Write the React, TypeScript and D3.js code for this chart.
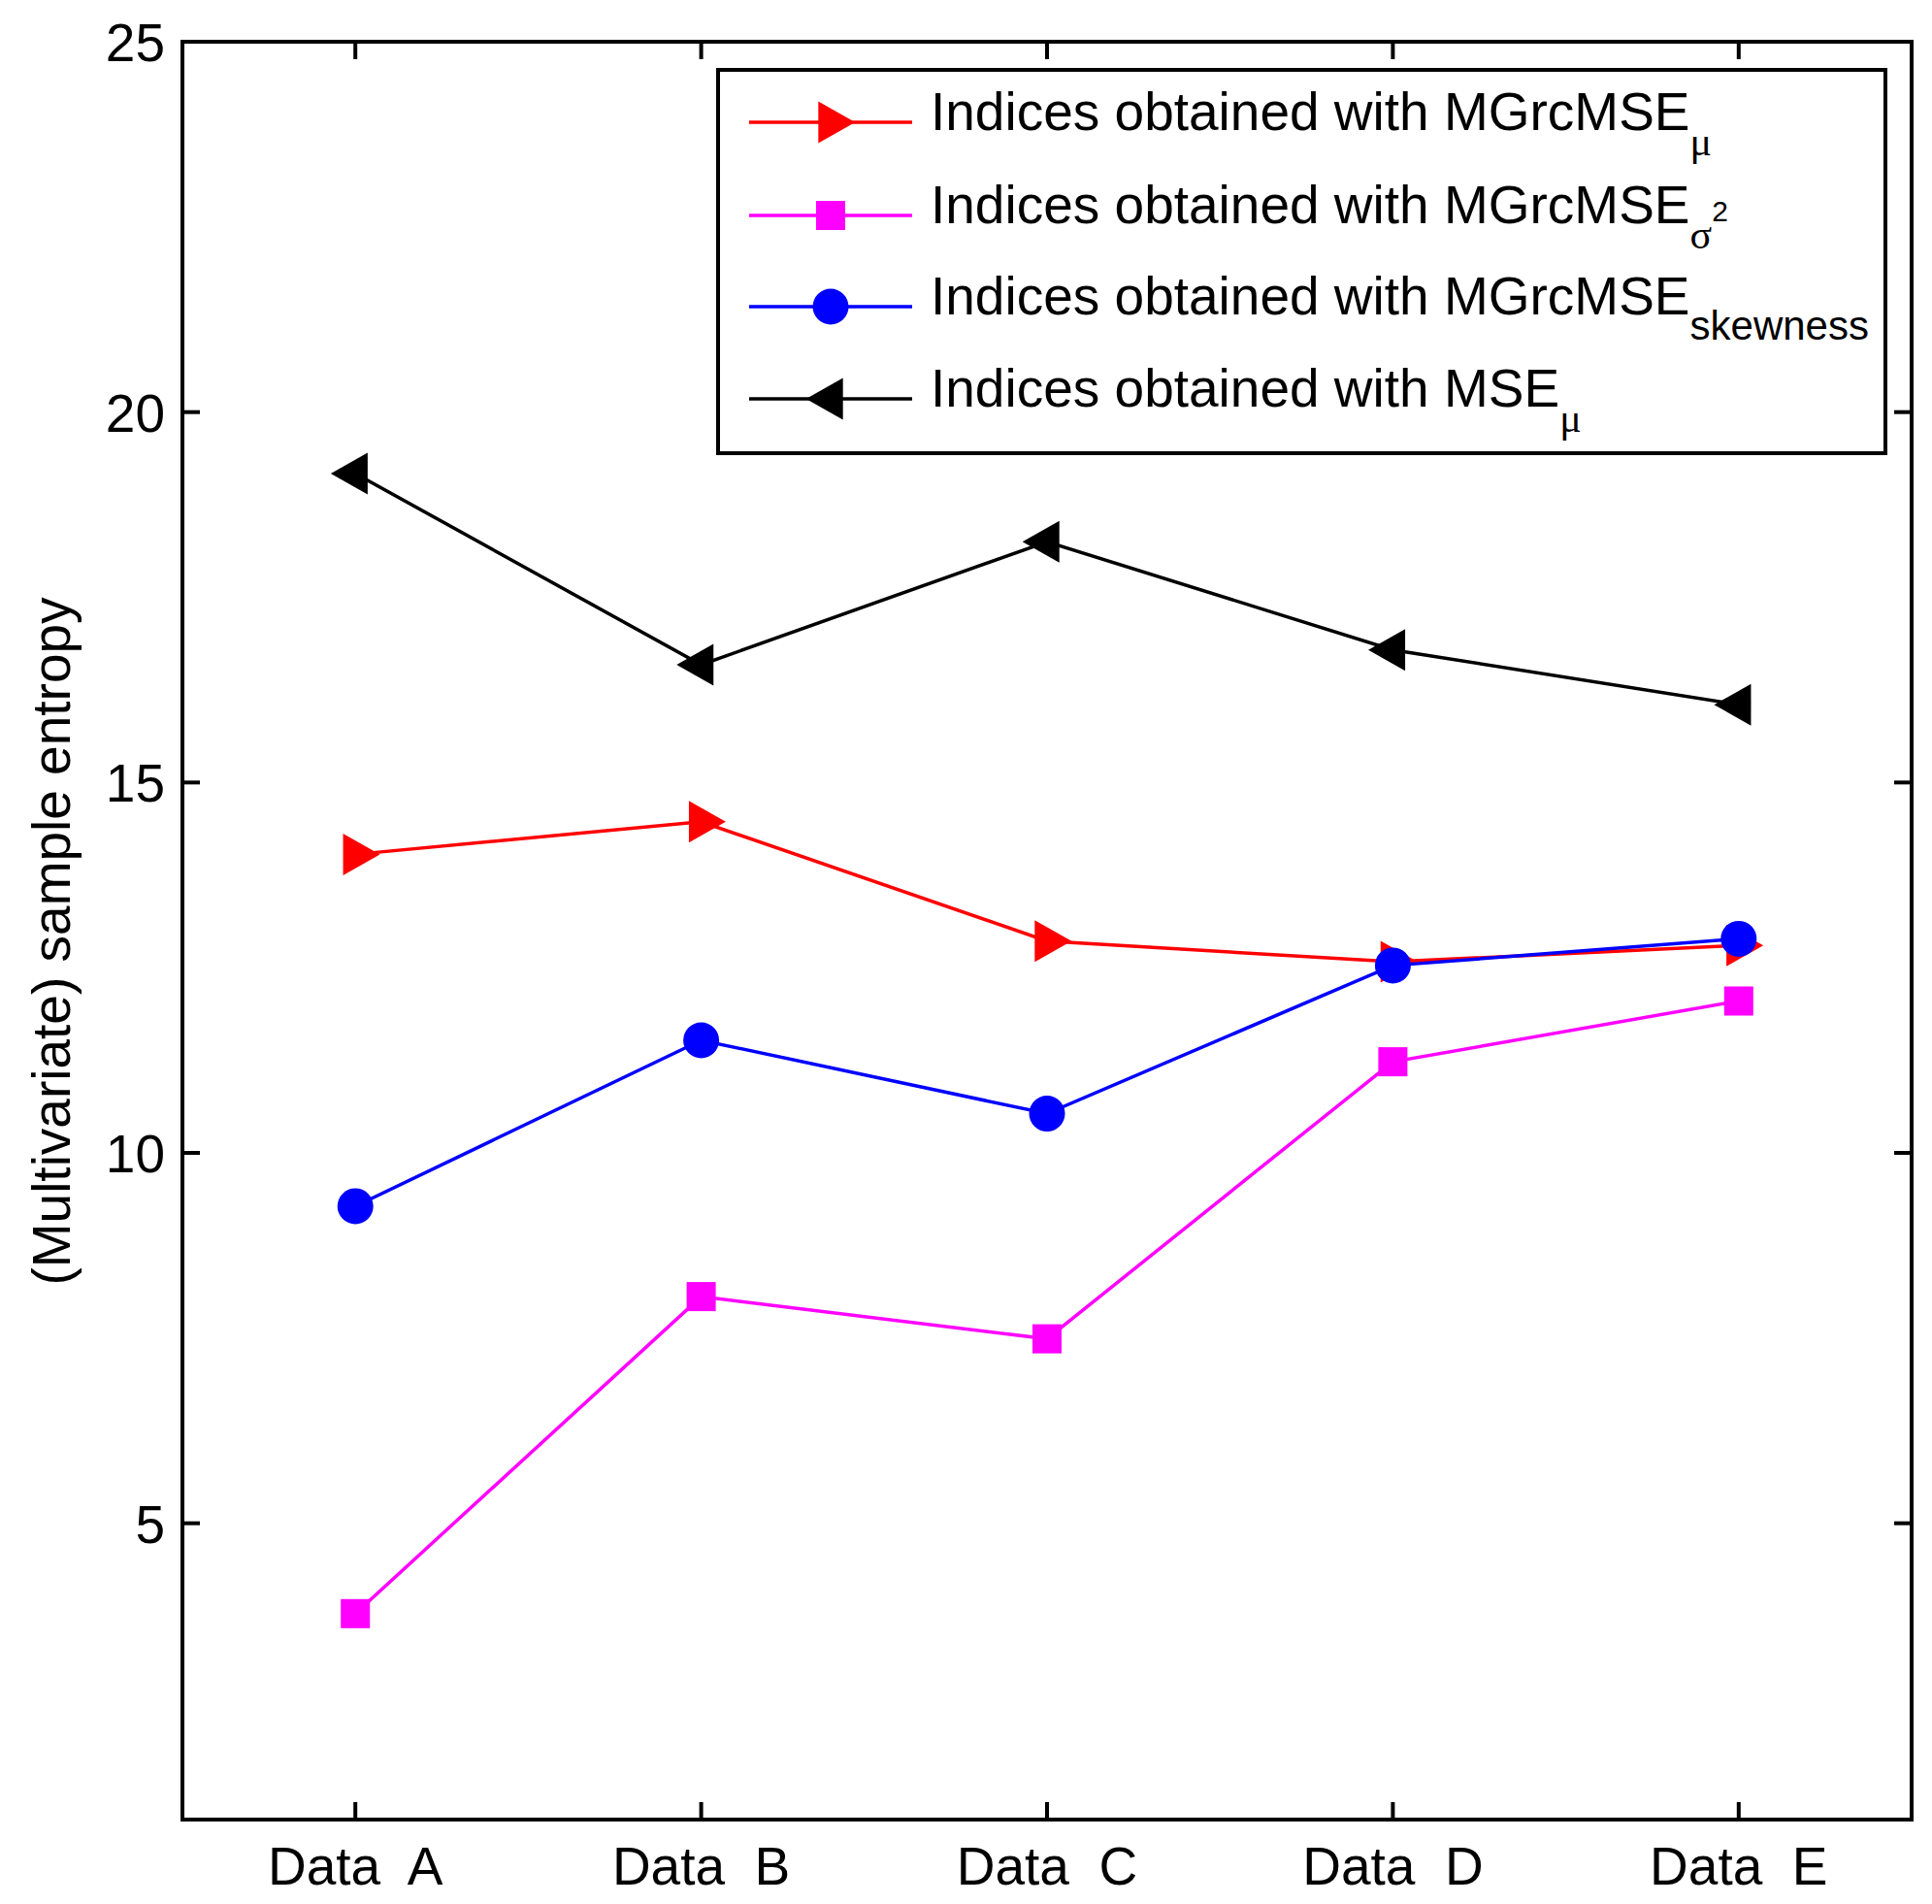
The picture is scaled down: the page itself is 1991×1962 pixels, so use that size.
import React from "react";
import * as d3 from "d3";

// data
const categories = ["Data  A", "Data  B", "Data  C", "Data  D", "Data  E"];
const mgrcMseMu = [14.03, 14.47, 12.86, 12.58, 12.8];
const mgrcMseSigma2 = [3.78, 8.06, 7.49, 11.23, 12.05];
const mgrcMseSkewness = [9.28, 11.52, 10.53, 12.53, 12.89];
const mseMu = [19.17, 16.59, 18.25, 16.79, 16.05];
const yTicks = [5, 10, 15, 20, 25];

const W = 1991;
const H = 1962;
const left = 188;
const right = 1970;
const top = 43;
const bottom = 1875;

const FONT = "'Liberation Sans', Arial, Helvetica, sans-serif";
const GREEK = "'Liberation Serif', 'Times New Roman', serif";

type Marker = "triRight" | "square" | "circle" | "triLeft";

const series: {
  values: number[];
  color: string;
  marker: Marker;
  main: string;
  sub: string;
  sup?: string;
  greek: boolean;
}[] = [
  { values: mgrcMseMu, color: "#ff0000", marker: "triRight", main: "Indices obtained with MGrcMSE", sub: "μ", greek: true },
  { values: mgrcMseSigma2, color: "#ff00ff", marker: "square", main: "Indices obtained with MGrcMSE", sub: "σ", sup: "2", greek: true },
  { values: mgrcMseSkewness, color: "#0000ff", marker: "circle", main: "Indices obtained with MGrcMSE", sub: "skewness", greek: false },
  { values: mseMu, color: "#000000", marker: "triLeft", main: "Indices obtained with MSE", sub: "μ", greek: true },
];

const MarkerShape = ({ type, cx, cy, color }: { type: Marker; cx: number; cy: number; color: string }) => {
  // triangles: centroid on the data point (matlab style)
  const tw = 38;
  const th = 43;
  if (type === "triRight") {
    const b = cx - tw / 3;
    const t = cx + (2 * tw) / 3;
    return <path d={`M${b},${cy - th / 2}L${t},${cy}L${b},${cy + th / 2}Z`} fill={color} />;
  }
  if (type === "triLeft") {
    const b = cx + tw / 3;
    const t = cx - (2 * tw) / 3;
    return <path d={`M${b},${cy - th / 2}L${t},${cy}L${b},${cy + th / 2}Z`} fill={color} />;
  }
  if (type === "square") {
    return <rect x={cx - 15} y={cy - 15} width={30} height={30} fill={color} />;
  }
  return <circle cx={cx} cy={cy} r={18.5} fill={color} />;
};

export default function App() {
  const x = d3.scalePoint<string>().domain(categories).range([left, right]).padding(0.5);
  const y = d3.scaleLinear().domain([1, 25]).range([bottom, top]);

  const line = d3
    .line<number>()
    .x((_, i) => x(categories[i]) as number)
    .y((d) => y(d));

  const tickLen = 18;

  // legend geometry
  const lgX = 740;
  const lgY = 72;
  const lgW = 1203;
  const lgH = 395;
  const rowY = [126, 222, 316, 411];

  return (
    <svg
      width={W}
      height={H}
      style={{ position: "absolute", left: 0, top: 0, fontFamily: FONT }}
    >
      <rect width={W} height={H} fill="#fff" />

      {/* data */}
      {series.map((s, si) => (
        <g key={si}>
          <path d={line(s.values) || ""} fill="none" stroke={s.color} strokeWidth={3.5} />
          {s.values.map((v, i) => (
            <MarkerShape key={i} type={s.marker} cx={x(categories[i]) as number} cy={y(v)} color={s.color} />
          ))}
        </g>
      ))}

      {/* axes box */}
      <rect x={left} y={top} width={right - left} height={bottom - top} fill="none" stroke="#000" strokeWidth={4} />

      {/* x ticks */}
      {categories.map((c) => {
        const px = x(c) as number;
        return (
          <g key={c}>
            <line x1={px} x2={px} y1={bottom} y2={bottom - tickLen} stroke="#000" strokeWidth={4} />
            <line x1={px} x2={px} y1={top} y2={top + tickLen} stroke="#000" strokeWidth={4} />
            <text x={px} y={1942} fontSize={55} textAnchor="middle" style={{ whiteSpace: "pre" }}>
              {c}
            </text>
          </g>
        );
      })}

      {/* y ticks */}
      {yTicks.map((t) => (
        <g key={t}>
          <line x1={left} x2={left + tickLen} y1={y(t)} y2={y(t)} stroke="#000" strokeWidth={4} />
          <line x1={right} x2={right - tickLen} y1={y(t)} y2={y(t)} stroke="#000" strokeWidth={4} />
          <text x={170} y={y(t) + 20} fontSize={55} textAnchor="end">
            {t}
          </text>
        </g>
      ))}

      {/* y label */}
      <text transform="translate(72,970) rotate(-90)" fontSize={55} textAnchor="middle">
        (Multivariate) sample entropy
      </text>

      {/* legend */}
      <rect x={lgX} y={lgY} width={lgW} height={lgH} fill="#fff" stroke="#000" strokeWidth={4} />
      {series.map((s, i) => {
        const ly = rowY[i];
        return (
          <g key={i}>
            <line x1={772} x2={940} y1={ly} y2={ly} stroke={s.color} strokeWidth={3.5} />
            <MarkerShape type={s.marker} cx={856} cy={ly} color={s.color} />
            <text x={959} y={ly + 8} fontSize={55}>
              {s.main}
              <tspan dy={26} fontSize={42} fontFamily={s.greek ? GREEK : FONT}>
                {s.sub}
              </tspan>
              {s.sup && (
                <tspan dy={-28} fontSize={30}>
                  {s.sup}
                </tspan>
              )}
            </text>
          </g>
        );
      })}
    </svg>
  );
}
